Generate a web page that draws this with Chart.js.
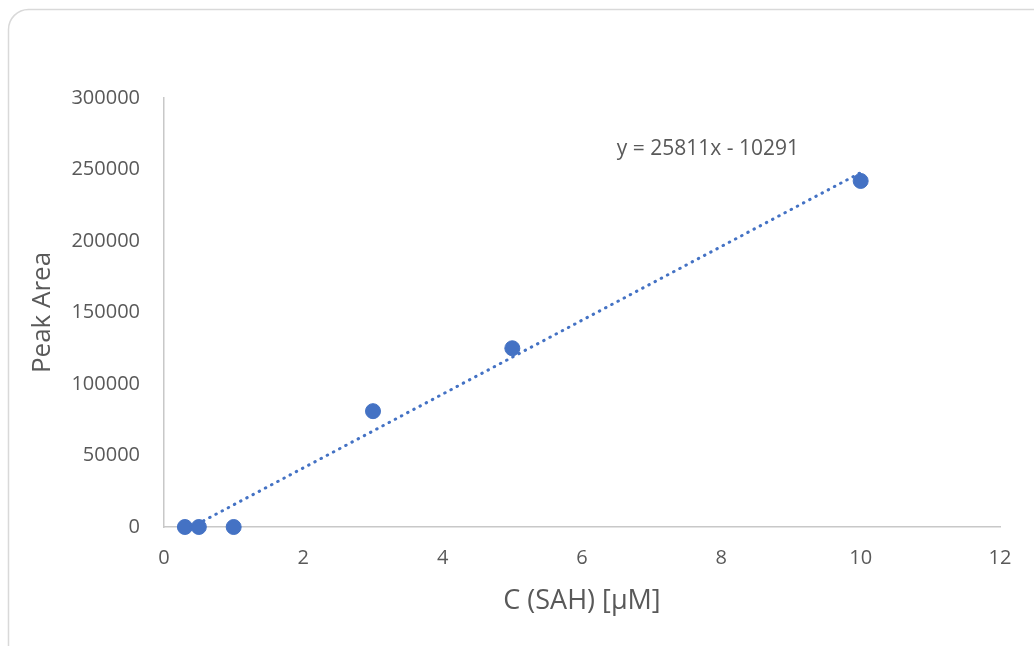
<!DOCTYPE html>
<html>
<head>
<meta charset="utf-8">
<script src="https://cdn.jsdelivr.net/npm/chart.js@4"></script>
<style>
  html, body { margin: 0; padding: 0; background: #fff; }
  #wrap { width: 1034px; height: 646px; }
</style>
</head>
<body>
<div id="wrap"><canvas id="calChart" width="1034" height="646"></canvas></div>
<script>
// calibration points: concentration (µM) vs peak area
var concentrations = [0.3, 0.5, 1, 3, 5, 10];
var peakAreas = [0, 0, 0, 81000, 125000, 242000];

// linear fit shown on the chart
var fitSlope = 25811;
var fitIntercept = -10291;
var fitLabel = 'y = 25811x - 10291';

var xTicks = [0, 2, 4, 6, 8, 10, 12];
var yTicks = [0, 50000, 100000, 150000, 200000, 250000, 300000];

var fitLine = [concentrations[0], concentrations[concentrations.length - 1]].map(function(x) {
    return { x: x, y: fitSlope * x + fitIntercept };
});

var frame = {
    id: 'frame',
    beforeDraw: function(chart) {
        var ctx = chart.ctx;
        ctx.save();
        ctx.fillStyle = '#ffffff';
        ctx.fillRect(0, 0, chart.width, chart.height);
        ctx.strokeStyle = '#d9d9d9';
        ctx.lineWidth = 1.5;
        ctx.beginPath();
        ctx.roundRect(8.5, 9.5, 1200, 800, 20);
        ctx.stroke();
        ctx.restore();
    },
    afterDatasetsDraw: function(chart) {
        var ctx = chart.ctx;
        var xs = chart.scales.x, ys = chart.scales.y;
        ctx.save();
        ctx.font = '21px "Open Sans"';
        ctx.fillStyle = '#595959';
        ctx.textAlign = 'left';
        ctx.textBaseline = 'middle';
        ctx.fillText(fitLabel, xs.getPixelForValue(6.5), ys.getPixelForValue(264000));
        ctx.restore();
    }
};

var ctx = document.getElementById('calChart').getContext('2d');
var chart = new Chart(ctx, {
    type: 'scatter',
    data: {
        datasets: [{
            label: 'fit',
            type: 'line',
            data: fitLine,
            borderColor: '#4472c4',
            borderWidth: 3,
            borderDash: [0.5, 6.5],
            borderCapStyle: 'round',
            pointRadius: 0,
            fill: false,
            clip: 0
        }, {
            label: 'Peak Area',
            data: concentrations.map(function(c, i) { return { x: c, y: peakAreas[i] }; }),
            backgroundColor: '#4472c4',
            borderColor: '#4472c4',
            pointRadius: 7.5,
            pointHoverRadius: 7.5,
            clip: false
        }]
    },
    options: {
        responsive: false,
        animation: false,
        layout: { padding: { left: 0, top: 98, right: 34, bottom: 0 } },
        plugins: {
            legend: { display: false },
            tooltip: { enabled: false }
        },
        scales: {
            x: {
                type: 'linear',
                min: 0,
                max: 12,
                afterBuildTicks: function(axis) {
                    axis.ticks = xTicks.map(function(v) { return { value: v }; });
                },
                afterFit: function(axis) { axis.height = 119; },
                grid: { display: false, drawTicks: false },
                border: { display: true, color: '#c8c8c8', width: 1.5 },
                ticks: {
                    padding: 19,
                    color: '#595959',
                    font: { family: '"Open Sans"', size: 20 }
                },
                title: {
                    display: true,
                    text: 'C (SAH) [µM]',
                    color: '#595959',
                    font: { family: '"Open Sans"', size: 27 },
                    padding: { top: 0, bottom: 28 }
                }
            },
            y: {
                min: 0,
                max: 300000,
                afterBuildTicks: function(axis) {
                    axis.ticks = yTicks.map(function(v) { return { value: v }; });
                },
                afterFit: function(axis) { axis.width = 164; },
                grid: { display: false, drawTicks: false },
                border: { display: true, color: '#c8c8c8', width: 1.5 },
                ticks: {
                    padding: 24,
                    color: '#595959',
                    font: { family: '"Open Sans"', size: 20 },
                    callback: function(v) { return String(v); }
                },
                title: {
                    display: true,
                    text: 'Peak Area',
                    color: '#595959',
                    font: { family: '"Open Sans"', size: 26 },
                    padding: { top: 27, bottom: 0 }
                }
            }
        }
    },
    plugins: [frame]
});
</script>
</body>
</html>
